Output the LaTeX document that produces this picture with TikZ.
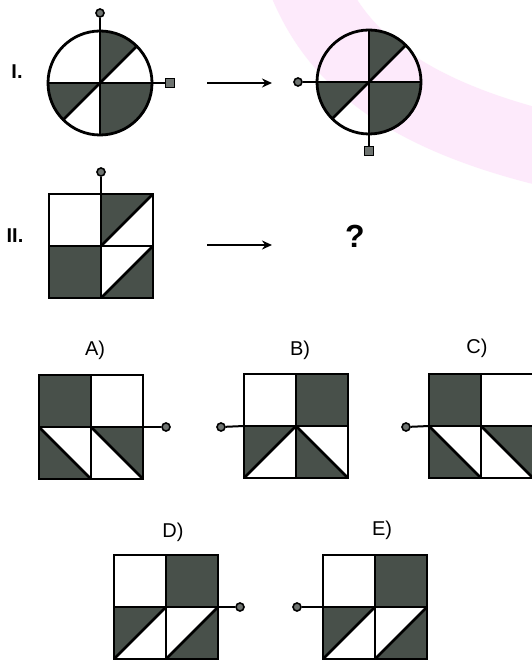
\documentclass[tikz,border=0pt]{standalone}
\usepackage{fontspec}
\setmainfont{Liberation Sans}
\usetikzlibrary{arrows.meta}
\definecolor{shade}{RGB}{72,80,74}
\definecolor{pinkband}{RGB}{253,234,251}
\definecolor{pinfill}{RGB}{110,115,112}
\tikzset{
  outl/.style={line width=2.8pt, draw=black, line join=miter},
  sh/.style={fill=shade},
  pinline/.style={line width=2pt},
  pinc/.style={circle, draw=black, fill=pinfill, line width=1.6pt, minimum size=8pt, inner sep=0pt},
  pins/.style={rectangle, draw=black, fill=pinfill, line width=1.6pt, minimum size=9pt, inner sep=0pt},
  romlab/.style={font=\bfseries\fontsize{20}{20}\selectfont},
  optlab/.style={font=\fontsize{20}{20}\selectfont},
  arr/.style={line width=2.2pt, -{Stealth[length=10pt,width=9pt]}}
}
\begin{document}
\begin{tikzpicture}[x=1pt,y=-1pt]
\useasboundingbox (0,0) rectangle (531,660);
\fill[white] (0,0) rectangle (531,660);
% pink watermark band
\draw[pinkband, line width=75pt] (305,-20) .. controls (335,55) and (400,115) .. (560,152);

% ---------- I. circle 1 ----------
\node[romlab] (lI) at (17,72) {I.};
\begin{scope}[shift={(100,83)}, yscale=-1]
  \fill[sh] (0,0) -- (45:52) arc (45:90:52) -- cycle;
  \fill[sh] (0,0) -- (180:52) arc (180:225:52) -- cycle;
  \fill[sh] (0,0) -- (270:52) arc (270:360:52) -- cycle;
  \draw[outl] (0,0) circle (52);
  \draw[outl] (-52,0) -- (52,0);
  \draw[outl] (0,-52) -- (0,52);
  \draw[outl] (225:52) -- (45:52);
  \coordinate (c1top) at (0,52);
  \coordinate (c1right) at (52,0);
\end{scope}
\node[pinc] (p1) at (100,13) {};
\node[pins] (s1) at (170,83) {};
\draw[pinline] (c1top) -- (p1);
\draw[pinline] (c1right) -- (s1);

\coordinate (a1s) at (207,83);
\coordinate (a1e) at (272,83);
\draw[arr] (a1s) -- (a1e);

% ---------- circle 2 ----------
\begin{scope}[shift={(369,82)}, yscale=-1]
  \fill[sh] (0,0) -- (45:52) arc (45:90:52) -- cycle;
  \fill[sh] (0,0) -- (180:52) arc (180:225:52) -- cycle;
  \fill[sh] (0,0) -- (270:52) arc (270:360:52) -- cycle;
  \draw[outl] (0,0) circle (52);
  \draw[outl] (-52,0) -- (52,0);
  \draw[outl] (0,-52) -- (0,52);
  \draw[outl] (225:52) -- (45:52);
  \coordinate (c2left) at (-52,0);
  \coordinate (c2bot) at (0,-52);
\end{scope}
\node[pinc] (p2) at (298,82) {};
\node[pins] (s2) at (369,151) {};
\draw[pinline] (c2left) -- (p2);
\draw[pinline] (c2bot) -- (s2);

% ---------- II. square ----------
\node[romlab] (lII) at (15,236) {II.};
\begin{scope}[shift={(49,194)}]
  \fill[white] (0,0) rectangle (104,104);
  \fill[sh] (52,0) -- (104,0) -- (52,52) -- cycle;
  \fill[sh] (0,52) rectangle (52,104);
  \fill[sh] (52,104) -- (104,104) -- (104,52) -- cycle;
  \draw[outl] (0,0) rectangle (104,104);
  \draw[outl] (52,0) -- (52,104);
  \draw[outl] (0,52) -- (104,52);
  \draw[outl] (52,52) -- (104,0);
  \draw[outl] (52,104) -- (104,52);
  \coordinate (q2top) at (52,0);
\end{scope}
\node[pinc] (p3) at (101,172) {};
\draw[pinline] (q2top) -- (p3);

\coordinate (a2s) at (207,245);
\coordinate (a2e) at (272,245);
\draw[arr] (a2s) -- (a2e);
\node[font=\bfseries\fontsize{32}{32}\selectfont] (q) at (355,236) {?};

% ---------- A ----------
\node[optlab] (lA) at (95,350) {A)};
\begin{scope}[shift={(39,375)}]
  \fill[sh] (0,0) rectangle (52,52);
  \fill[sh] (0,52) -- (0,104) -- (52,104) -- cycle;
  \fill[sh] (52,52) -- (104,52) -- (104,104) -- cycle;
  \draw[outl] (0,0) rectangle (104,104);
  \draw[outl] (52,0) -- (52,104);
  \draw[outl] (0,52) -- (104,52);
  \draw[outl] (0,52) -- (52,104);
  \draw[outl] (52,52) -- (104,104);
  \coordinate (qAr) at (104,52);
\end{scope}
\node[pinc] (pA) at (166,427) {};
\draw[pinline] (qAr) -- (pA);

% ---------- B ----------
\node[optlab] (lB) at (300,350) {B)};
\begin{scope}[shift={(244,374)}]
  \fill[sh] (52,0) rectangle (104,52);
  \fill[sh] (0,52) -- (52,52) -- (0,104) -- cycle;
  \fill[sh] (52,52) -- (52,104) -- (104,104) -- cycle;
  \draw[outl] (0,0) rectangle (104,104);
  \draw[outl] (52,0) -- (52,104);
  \draw[outl] (0,52) -- (104,52);
  \draw[outl] (0,104) -- (52,52);
  \draw[outl] (52,52) -- (104,104);
  \coordinate (qBl) at (0,52);
\end{scope}
\node[pinc] (pB) at (221,427) {};
\draw[pinline] (qBl) -- (pB);

% ---------- C ----------
\node[optlab] (lC) at (477,348) {C)};
\begin{scope}[shift={(429,374)}]
  \fill[sh] (0,0) rectangle (52,52);
  \fill[sh] (0,52) -- (0,104) -- (52,104) -- cycle;
  \fill[sh] (52,52) -- (104,52) -- (104,104) -- cycle;
  \draw[outl] (0,0) rectangle (104,104);
  \draw[outl] (52,0) -- (52,104);
  \draw[outl] (0,52) -- (104,52);
  \draw[outl] (0,52) -- (52,104);
  \draw[outl] (52,52) -- (104,104);
  \coordinate (qCl) at (0,52);
\end{scope}
\node[pinc] (pC) at (406,427) {};
\draw[pinline] (qCl) -- (pC);

% ---------- D ----------
\node[optlab] (lD) at (173,532) {D)};
\begin{scope}[shift={(114,555)}]
  \fill[sh] (52,0) rectangle (104,52);
  \fill[sh] (0,52) -- (52,52) -- (0,104) -- cycle;
  \fill[sh] (52,104) -- (104,104) -- (104,52) -- cycle;
  \draw[outl] (0,0) rectangle (104,104);
  \draw[outl] (52,0) -- (52,104);
  \draw[outl] (0,52) -- (104,52);
  \draw[outl] (0,104) -- (52,52);
  \draw[outl] (52,104) -- (104,52);
  \coordinate (qDr) at (104,52);
\end{scope}
\node[pinc] (pD) at (240,607) {};
\draw[pinline] (qDr) -- (pD);

% ---------- E ----------
\node[optlab] (lE) at (382,530) {E)};
\begin{scope}[shift={(323,555)}]
  \fill[sh] (52,0) rectangle (104,52);
  \fill[sh] (0,52) -- (52,52) -- (0,104) -- cycle;
  \fill[sh] (52,104) -- (104,104) -- (104,52) -- cycle;
  \draw[outl] (0,0) rectangle (104,104);
  \draw[outl] (52,0) -- (52,104);
  \draw[outl] (0,52) -- (104,52);
  \draw[outl] (0,104) -- (52,52);
  \draw[outl] (52,104) -- (104,52);
  \coordinate (qEl) at (0,52);
\end{scope}
\node[pinc] (pE) at (297,607) {};
\draw[pinline] (qEl) -- (pE);
\end{tikzpicture}
\end{document}
